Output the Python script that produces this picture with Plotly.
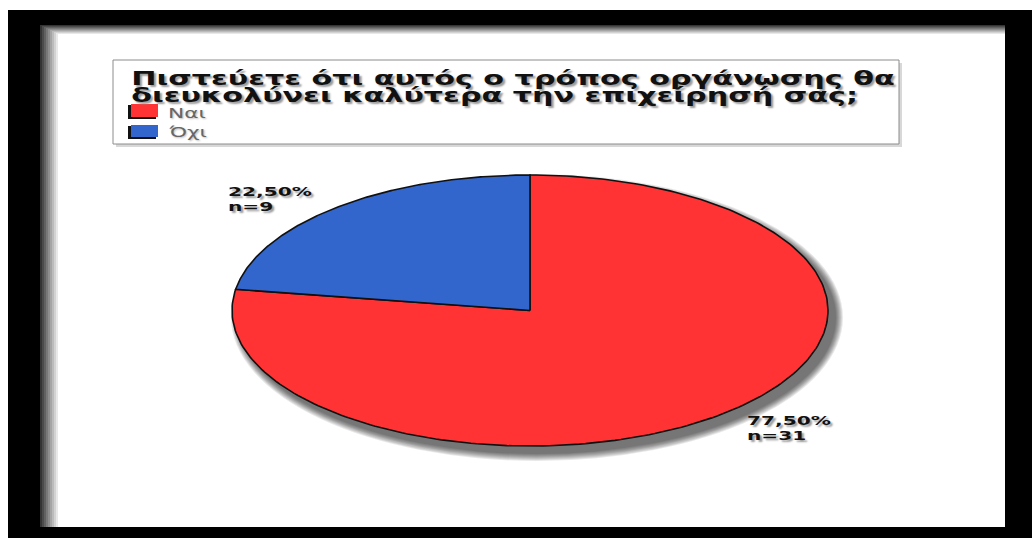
import json
import numpy as np
import plotly.graph_objects as go

# Survey answers
categories = ["Ναι", "Όχι"]
counts = [31, 9]
colors = ["#FF3333", "#3366CC"]
title_lines = [
    "Πιστεύετε ότι αυτός ο τρόπος οργάνωσης θα",
    "διευκολύνει καλύτερα την επιχείρησή σας;",
]

W, H = 1032, 538
# pie placement in pixels: centre and the two radii (ellipse)
CX, CY, RX, RY = 530.0, 310.5, 298.0, 135.5


def px(x):
    return x / W


def py(y):
    return 1 - y / H


fig = go.Figure()

# wedges, clockwise from 12 o'clock, on a unit circle stretched by the axes
total = sum(counts)
start = 0.0
for cat, val, col in zip(categories, counts, colors):
    span = 2 * np.pi * val / total
    t = np.linspace(start, start + span, 240)
    xs = np.concatenate([[0], np.sin(t), [0]])
    ys = np.concatenate([[0], np.cos(t), [0]])
    fig.add_trace(go.Scatter(
        x=xs, y=ys, mode="lines", fill="toself", fillcolor=col,
        line=dict(color="#111111", width=1.6), name=cat,
        showlegend=False, hoverinfo="text",
        text=f"{cat}: {val}",
    ))
    start += span

shapes = []
# outer black frame with a soft inner edge
shapes.append(dict(type="rect", xref="paper", yref="paper",
                   x0=px(8), x1=1, y0=0, y1=py(10),
                   fillcolor="black", line_width=0, layer="below"))
steps = 9
for i in range(steps):
    g = int(30 + (255 - 30) * (i + 1) / (steps + 1))
    col = f"rgb({g},{g},{g})"
    shapes.append(dict(type="rect", xref="paper", yref="paper",
                       x0=px(40 + i * 2), x1=px(1005),
                       y0=py(527), y1=py(25 + i * 1),
                       fillcolor=col, line_width=0, layer="below"))
shapes.append(dict(type="rect", xref="paper", yref="paper",
                   x0=px(58), x1=px(1005), y0=py(527), y1=py(34),
                   fillcolor="white", line_width=0, layer="below"))

# title box
shapes.append(dict(type="rect", xref="paper", yref="paper",
                   x0=px(116), x1=px(902), y0=py(147), y1=py(63),
                   fillcolor="#d8d8d8", line_width=0, layer="below"))
shapes.append(dict(type="rect", xref="paper", yref="paper",
                   x0=px(113), x1=px(899), y0=py(144), y1=py(60),
                   fillcolor="white", line=dict(color="#8c8c8c", width=1),
                   layer="below"))

# legend swatches (dark edge on the left and bottom)
sw_y = [(104, 118), (125, 138)]
for col, (y0, y1) in zip(colors, sw_y):
    shapes.append(dict(type="rect", xref="paper", yref="paper",
                       x0=px(128), x1=px(156), y0=py(y1 + 1), y1=py(y0 + 1),
                       fillcolor="#111111", line_width=0, layer="below"))
    shapes.append(dict(type="rect", xref="paper", yref="paper",
                       x0=px(131), x1=px(158), y0=py(y1 - 1), y1=py(y0),
                       fillcolor=col, line_width=0, layer="below"))

# blurred drop shadow under the pie
for k in range(8):
    grow = 8 - k
    dx, dy = 7, 7
    shapes.append(dict(type="circle", xref="x", yref="y",
                       x0=(-RX - grow + dx) / RX, x1=(RX + grow + dx) / RX,
                       y0=(-RY - grow - dy) / RY, y1=(RY + grow - dy) / RY,
                       fillcolor="rgba(0,0,0,0.09)", line_width=0,
                       layer="below"))

annotations = []
stretch = []  # horizontal scale applied to each annotation's text
shadow = "2px 2px 2px #9a9a9a"
title_y = [78, 95]
for line, ty in zip(title_lines, title_y):
    annotations.append(dict(
        text=line, xref="paper", yref="paper", x=px(129), y=py(ty),
        xanchor="left", yanchor="middle", showarrow=False,
        font=dict(family="DejaVu Sans", size=19, color="#111111",
                  weight="bold", shadow=shadow)))
    stretch.append(1.59)

leg_y = [113, 132]
for cat, ly in zip(categories, leg_y):
    annotations.append(dict(
        text=cat, xref="paper", yref="paper", x=px(166), y=py(ly),
        xanchor="left", yanchor="middle", showarrow=False,
        font=dict(family="DejaVu Sans", size=14, color="#666666",
                  shadow="1px 1px 2px #bbbbbb")))
    stretch.append(1.55)

# slice labels: percentage and count
label_pos = [(745, 420), (226, 191)]
for val, (lx, ly) in zip(counts, label_pos):
    pct = f"{100 * val / total:.2f}%".replace(".", ",")
    for j, txt in enumerate([pct, f"n={val}"]):
        annotations.append(dict(
            text=txt, xref="paper", yref="paper", x=px(lx), y=py(ly + 15 * j),
            xanchor="left", yanchor="middle", showarrow=False,
            font=dict(family="DejaVu Sans", size=13, color="#111111",
                      weight="bold", shadow=shadow)))
        stretch.append(1.55)

fig.update_layout(
    width=W, height=H, margin=dict(l=0, r=0, t=0, b=0),
    paper_bgcolor="white", plot_bgcolor="rgba(0,0,0,0)",
    xaxis=dict(range=[-CX / RX, (W - CX) / RX], visible=False, fixedrange=True),
    yaxis=dict(range=[-(H - CY) / RY, CY / RY], visible=False, fixedrange=True),
    shapes=shapes, annotations=annotations, showlegend=False,
)

# widen the lettering horizontally, keeping each text's left edge in place
post = (
    "var gd = document.getElementById('{plot_id}');\n"
    "var sx = " + json.dumps(stretch) + ";\n"
    "gd.querySelectorAll('g.annotation').forEach(function (g) {\n"
    "  var i = +g.getAttribute('data-index');\n"
    "  var t = g.querySelector('text.annotation-text');\n"
    "  if (!t || !sx[i]) return;\n"
    "  t.style.transformBox = 'fill-box';\n"
    "  t.style.transformOrigin = 'left center';\n"
    "  t.style.transform = 'scaleX(' + sx[i] + ')';\n"
    "});\n"
)

fig.write_html("out.html", post_script=post)
